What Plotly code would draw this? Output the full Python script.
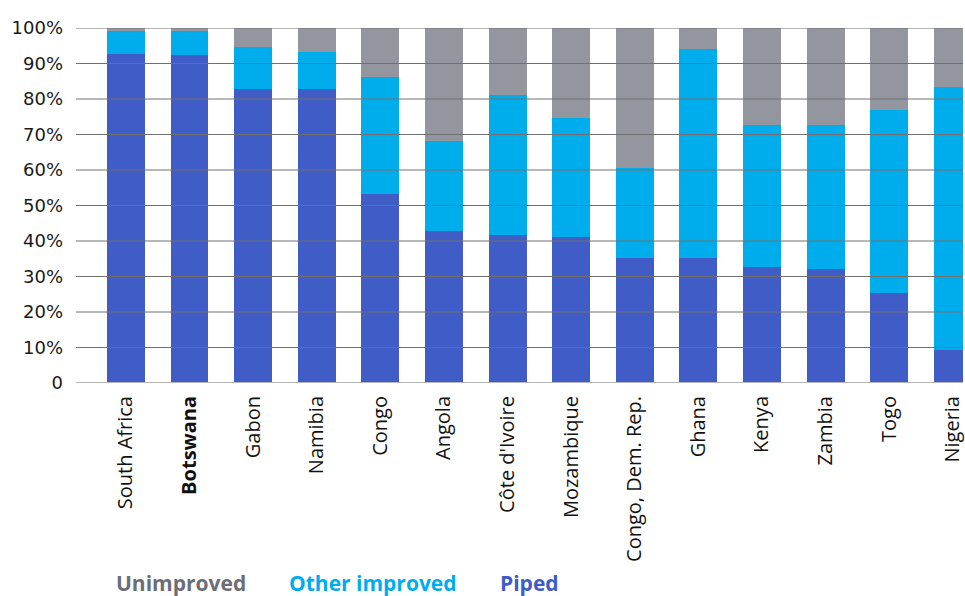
import plotly.graph_objects as go

countries = ["South Africa", "Botswana", "Gabon", "Namibia", "Congo", "Angola",
             "Côte d'Ivoire", "Mozambique", "Congo, Dem. Rep.", "Ghana", "Kenya",
             "Zambia", "Togo", "Nigeria"]
piped = [92.7, 92.3, 82.7, 82.7, 53.2, 42.7, 41.6, 41.0, 35.2, 35.2, 32.7, 32.1, 25.3, 9.3]
other_improved = [6.4, 6.8, 11.9, 10.5, 32.9, 25.4, 39.4, 33.6, 25.4, 58.8, 39.9, 40.5, 51.6, 74.0]
unimproved = [0.9, 0.9, 5.4, 6.8, 13.9, 31.9, 19.0, 25.4, 39.4, 6.0, 27.4, 27.4, 23.1, 16.7]

y_ticks = [0, 10, 20, 30, 40, 50, 60, 70, 80, 90, 100]
y_ticktext = ["0", "10%", "20%", "30%", "40%", "50%", "60%", "70%", "80%", "90%", "100%"]
x_ticktext = ["<b>" + c + "</b>" if c == "Botswana" else c for c in countries]

C_PIPED = "#405cc6"
C_OTHER = "#00adec"
C_UNIMP = "#93969e"

fig = go.Figure()
fig.add_trace(go.Bar(x=countries, y=piped, name="Piped", marker=dict(color=C_PIPED, line=dict(width=0))))
fig.add_trace(go.Bar(x=countries, y=other_improved, name="Other improved", marker=dict(color=C_OTHER, line=dict(width=0))))
fig.add_trace(go.Bar(x=countries, y=unimproved, name="Unimproved", marker=dict(color=C_UNIMP, line=dict(width=0))))

shapes = []
for v in y_ticks:
    if v == 0:
        shapes.append(dict(type="line", xref="paper", yref="y", x0=0, x1=1, y0=v, y1=v,
                           line=dict(color="#b5b5b5", width=2), layer="above"))
    else:
        shapes.append(dict(type="line", xref="paper", yref="y", x0=0, x1=1, y0=v, y1=v,
                           line=dict(color="#707070", width=1), layer="above"))

legend_items = [("Unimproved", "#6b6e76", 0.0428), ("Other improved", "#00adec", 0.2374), ("Piped", "#3f5bc6", 0.4758)]
annotations = []
for txt, col, xp in legend_items:
    annotations.append(dict(text="<b>" + txt + "</b>", x=xp, y=-0.563, xref="paper", yref="paper",
                            xanchor="left", yanchor="middle", showarrow=False,
                            font=dict(family="Open Sans", size=21, color=col)))

fig.update_layout(
    width=965, height=596,
    margin=dict(l=76, r=0, t=28, b=213),
    barmode="stack",
    bargap=0.404,
    plot_bgcolor="white",
    paper_bgcolor="white",
    showlegend=False,
    shapes=shapes,
    annotations=annotations,
    xaxis=dict(range=[-0.784, 13.16], tickvals=countries, ticktext=x_ticktext,
               tickangle=-90, showgrid=False, showline=False, zeroline=False, ticks="",
               ticklabelstandoff=8,
               tickfont=dict(family="Open Sans", size=20, color="#111111")),
    yaxis=dict(range=[0, 100], tickvals=y_ticks, ticktext=y_ticktext, showgrid=False,
               zeroline=False, showline=False, ticks="", ticklabelstandoff=12,
               tickfont=dict(family="DejaVu Sans", size=18, color="#1a1a1a")),
)

fig.write_html("out.html")
